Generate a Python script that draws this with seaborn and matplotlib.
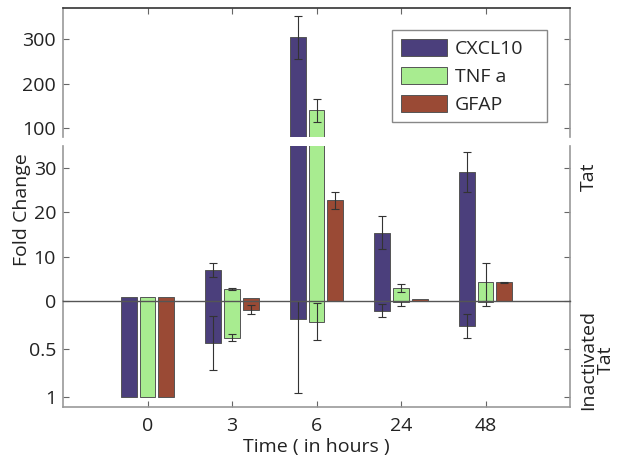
import numpy as np
import pandas as pd
import matplotlib
matplotlib.use('Agg')
import matplotlib.pyplot as plt
import seaborn as sns
from matplotlib.patches import Patch, Rectangle
from matplotlib.ticker import FuncFormatter

sns.set_theme(style='white')
plt.rcParams['font.family'] = ['Open Sans', 'DejaVu Sans']

# data
times = ['0', '3', '6', '24', '48']
genes = ['CXCL10', 'TNF a', 'GFAP']
colors = ['#4b3f7c', '#a8ec90', '#9a4a35']

tat_cxcl10 = [1, 7.0, 304, 15.4, 29.2]
tat_tnf = [1, 2.7, 140, 3.0, 4.2]
tat_gfap = [1, 0.7, 22.7, 0.45, 4.2]
tat_err_cxcl10 = [0, 1.5, 48, 3.7, 4.5]
tat_err_tnf = [0, 0.2, 26, 0.9, 4.3]
tat_err_gfap = [0, 0, 2.0, 0, 0.2]

inact_cxcl10 = [1, 0.44, 0.19, 0.10, 0.26]
inact_tnf = [1, 0.38, 0.215, 0.01, 0.01]
inact_gfap = [1, 0.09, 0.005, 0.0, 0.0]
inact_err_cxcl10 = [0, 0.28, 0.76, 0.065, 0.125]
inact_err_tnf = [0, 0.04, 0.19, 0.04, 0.04]
inact_err_gfap = [0, 0.05, 0, 0, 0]


def long_df(vals, errs):
    rows = []
    for g, v, e in zip(genes, vals, errs):
        for t, vi, ei in zip(times, v, e):
            rows.append({'time': t, 'gene': g, 'value': vi, 'err': ei})
    return pd.DataFrame(rows)


df_tat = long_df([tat_cxcl10, tat_tnf, tat_gfap],
                 [tat_err_cxcl10, tat_err_tnf, tat_err_gfap])
df_inact = long_df([inact_cxcl10, inact_tnf, inact_gfap],
                   [inact_err_cxcl10, inact_err_tnf, inact_err_gfap])

W, H = 624, 465
fig = plt.figure(figsize=(W / 100, H / 100), dpi=100)
L, R = 63, 570
FS = 14


def add_ax(y0, y1):
    return fig.add_axes([L / W, (H - y1) / H, (R - L) / W, (y1 - y0) / H])


ax_top = add_ax(8, 137)
ax_mid = add_ax(146, 301)
ax_bot = add_ax(301, 407)


def draw(ax, df):
    sns.barplot(data=df, x='time', y='value', hue='gene', order=times,
                hue_order=genes, palette=colors, saturation=1, width=0.66,
                gap=0.14, edgecolor='#555555', linewidth=0.7, legend=False,
                errorbar=None, ax=ax)
    for cont, g in zip(ax.containers, genes):
        sub = df[df.gene == g].set_index('time').loc[times]
        xs = [b.get_x() + b.get_width() / 2 for b in cont]
        mask = sub['err'].values > 0
        ax.errorbar(np.array(xs)[mask], sub['value'].values[mask],
                    yerr=sub['err'].values[mask], fmt='none', ecolor='#333333',
                    elinewidth=0.8, capsize=3, capthick=0.8)
    ax.set_xlim(-1, 5)
    ax.set_xlabel('')
    ax.set_ylabel('')


draw(ax_top, df_tat)
draw(ax_mid, df_tat)
draw(ax_bot, df_inact)

ax_top.set_ylim(80, 370)
ax_top.set_yticks([100, 200, 300])
ax_mid.set_ylim(0, 35)
ax_mid.set_yticks([0, 10, 20, 30])
ax_bot.set_ylim(1.1, 0)
ax_bot.set_yticks([0.5, 1])
ax_bot.yaxis.set_major_formatter(FuncFormatter(lambda v, p: '%g' % v))

gray = '#999999'
for ax in (ax_top, ax_mid, ax_bot):
    ax.tick_params(axis='both', direction='in', length=4, width=0.8,
                   color='#666666', labelsize=FS, labelcolor='#222222',
                   left=True, right=True, pad=5)
    for s in ax.spines.values():
        s.set_color(gray)
        s.set_linewidth(1.2)

ax_top.spines['bottom'].set_visible(False)
ax_top.spines['top'].set_color('#333333')
ax_top.tick_params(axis='x', top=True, bottom=False, labelbottom=False)
ax_mid.spines['top'].set_visible(False)
ax_mid.spines['bottom'].set_color('#555555')
ax_mid.spines['bottom'].set_linewidth(1.0)
ax_mid.tick_params(axis='x', top=False, bottom=False, labelbottom=False)
ax_mid.set_zorder(3)
ax_mid.patch.set_visible(False)
ax_bot.spines['top'].set_visible(False)
ax_bot.tick_params(axis='x', top=False, bottom=True, labelbottom=True, pad=7)

# legend box (MATLAB style, wider than the content)
box = Rectangle((392 / W, 1 - 122 / H), 155 / W, 92 / H,
                transform=fig.transFigure, facecolor='white',
                edgecolor='#888888', linewidth=1.0, zorder=5)
ax_top.add_artist(box)
box.set_clip_on(False)

handles = [Patch(facecolor=c, edgecolor='#555555', linewidth=0.7) for c in colors]
leg = ax_top.legend(handles, genes, loc='upper left',
                    bbox_to_anchor=(392 / W, 1 - 30 / H),
                    bbox_transform=fig.transFigure, fontsize=FS,
                    handlelength=2.4, handleheight=1.0, handletextpad=0.4,
                    labelspacing=0.45, borderpad=0.45, borderaxespad=0,
                    frameon=False)
leg.set_zorder(6)

fig.text(22 / W, 1 - 210 / H, 'Fold Change', rotation=90, ha='center',
         va='center', fontsize=FS, color='#222222')
fig.text(316 / W, 1 - 447 / H, 'Time ( in hours )', ha='center',
         va='center', fontsize=FS, color='#222222')
fig.text(589 / W, 1 - 177 / H, 'Tat', rotation=90, ha='center',
         va='center', fontsize=FS, color='#222222')
fig.text(597 / W, 1 - 360 / H, 'Inactivated\nTat', rotation=90, ha='center',
         va='center', fontsize=FS, color='#222222', linespacing=0.95,
         multialignment='center')

fig.savefig('out.png', dpi=100)
